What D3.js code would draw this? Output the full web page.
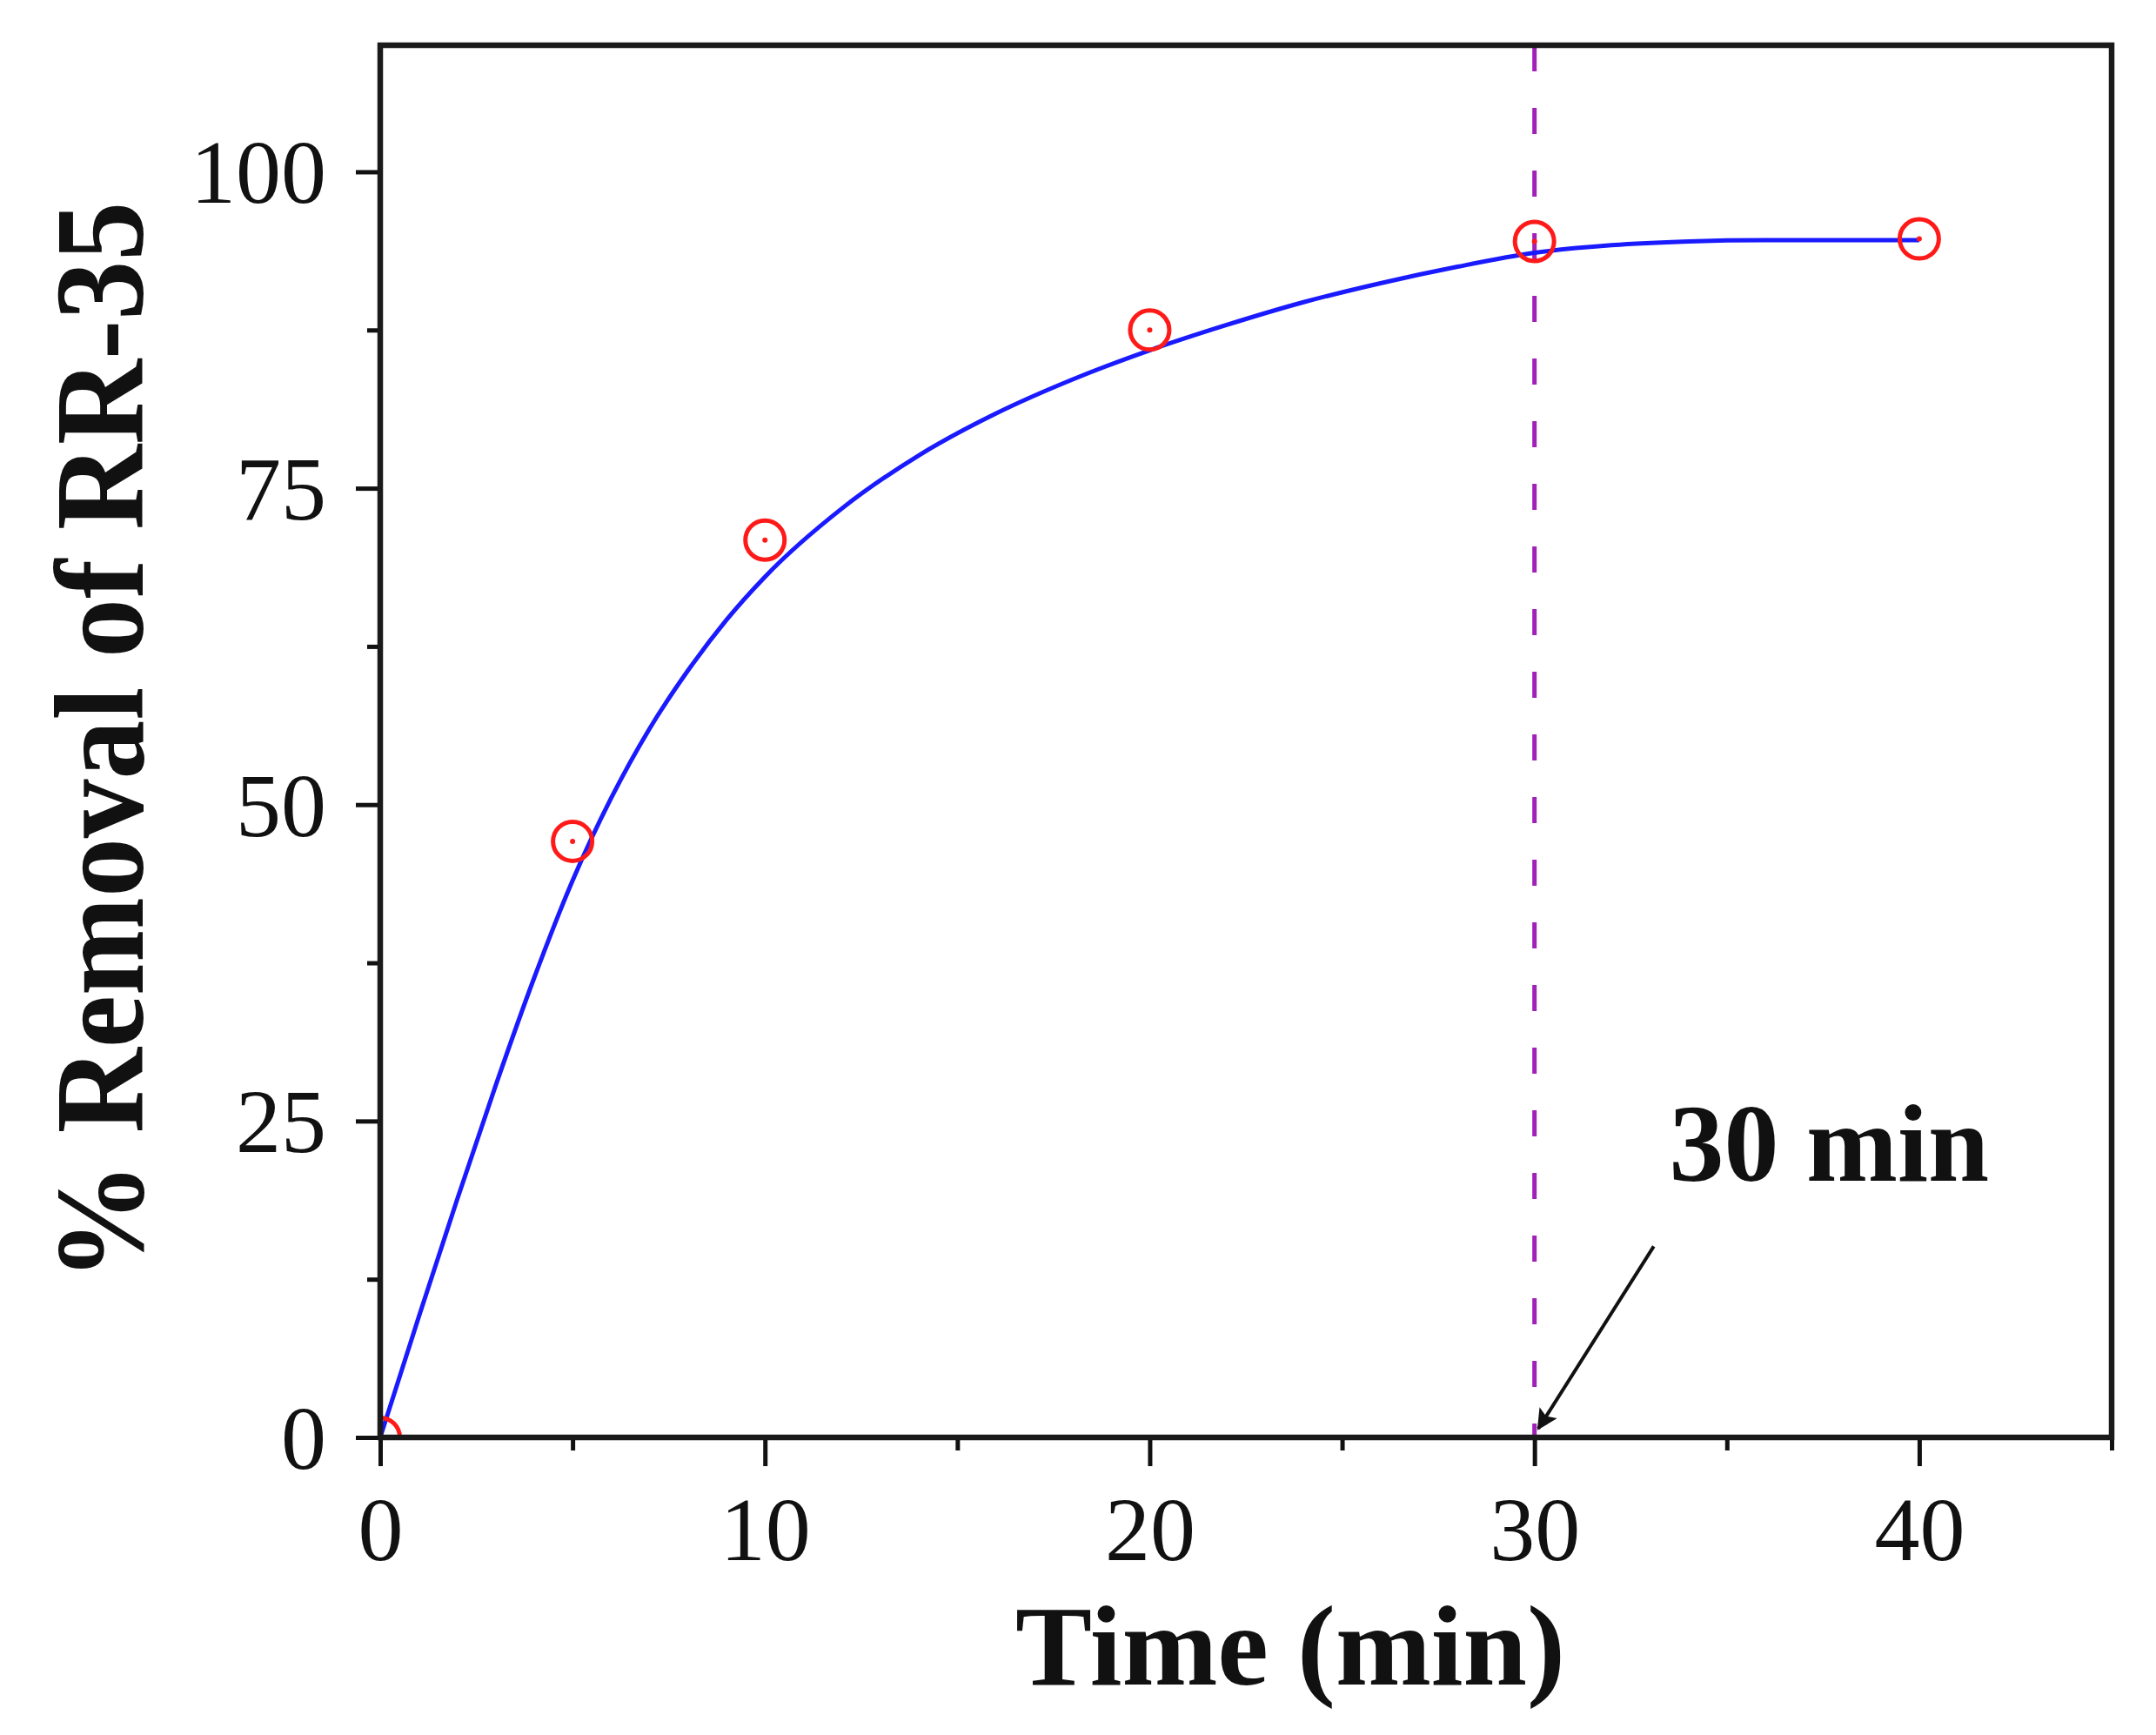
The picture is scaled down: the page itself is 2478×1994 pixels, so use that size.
<!DOCTYPE html>
<html>
<head>
<meta charset="utf-8">
<script src="https://cdn.jsdelivr.net/npm/d3@7"></script>
<style>
  html, body { margin: 0; padding: 0; background: #fff; }
  svg { display: block; }
  text { font-family: "Liberation Serif", "Times New Roman", serif; fill: #111; }
</style>
</head>
<body>
<svg id="chart" width="2478" height="1994"></svg>
<script>
// ---- Data ----
const pointTimes = [0, 5, 10, 20, 30, 40];
const pointRemoval = [0, 47.1, 70.9, 87.5, 94.5, 94.7];

const fitTimes = [0, 1, 2, 3, 4, 5, 6, 7, 8, 9, 10, 12, 14, 16, 18, 20, 22, 24, 26, 28, 30, 32, 34, 36, 38, 40];
const fitRemoval = [0, 9.5, 18.8, 27.8, 36.3, 44.0, 50.5, 56.0, 60.6, 64.6, 68.0, 73.4, 77.6, 80.9, 83.6, 85.9, 87.9, 89.7, 91.2, 92.5, 93.6, 94.2, 94.5, 94.6, 94.6, 94.6];

const xMajorTicks = [0, 10, 20, 30, 40];
const xMinorTicks = [5, 15, 25, 35, 45];
const yMajorTicks = [0, 25, 50, 75, 100];
const yMinorTicks = [12.5, 37.5, 62.5, 87.5];

const markerTime = 30;
const annotationLabel = "30 min";
const xTitle = "Time (min)";
const yTitle = "% Removal of RR-35";

// ---- Layout ----
const svg = d3.select("#chart");
const pLeft = 437, pRight = 2427, pTop = 52, pBottom = 1652;

const x = d3.scaleLinear().domain([0, 45]).range([pLeft, pRight]);
const y = d3.scaleLinear().domain([0, 110]).range([pBottom, pTop]);

svg.append("rect").attr("width", 2478).attr("height", 1994).attr("fill", "#fff");

const defs = svg.append("defs");
defs.append("clipPath").attr("id", "plotClip")
  .append("rect").attr("x", pLeft).attr("y", pTop).attr("width", pRight - pLeft).attr("height", pBottom - pTop);

defs.append("marker")
  .attr("id", "arrowHead").attr("viewBox", "0 0 10 10")
  .attr("refX", 9).attr("refY", 5)
  .attr("markerWidth", 8).attr("markerHeight", 6)
  .attr("markerUnits", "strokeWidth")
  .attr("orient", "auto")
  .append("path").attr("d", "M0,0 L10,5 L0,10 L2,5 z").attr("fill", "#111");

const tickFont = 104;

// Bottom axis (major)
const gx = svg.append("g").attr("transform", `translate(0,${pBottom})`)
  .call(d3.axisBottom(x).tickValues(xMajorTicks).tickSize(33).tickFormat(d3.format("d")));
gx.select(".domain").remove();
gx.selectAll(".tick line").attr("stroke", "#111").attr("stroke-width", 5);
gx.selectAll(".tick text").attr("y", 141).attr("dy", 0)
  .attr("font-size", tickFont).attr("fill", "#111");
// Bottom axis (minor)
const gxm = svg.append("g").attr("transform", `translate(0,${pBottom})`)
  .call(d3.axisBottom(x).tickValues(xMinorTicks).tickSize(15).tickFormat(""));
gxm.select(".domain").remove();
gxm.selectAll(".tick line").attr("stroke", "#111").attr("stroke-width", 5);

// Left axis (major)
const gy = svg.append("g").attr("transform", `translate(${pLeft},0)`)
  .call(d3.axisLeft(y).tickValues(yMajorTicks).tickSize(28).tickFormat(d3.format("d")));
gy.select(".domain").remove();
gy.selectAll(".tick line").attr("stroke", "#111").attr("stroke-width", 5);
gy.selectAll(".tick text").attr("x", -62).attr("dy", "0.34em")
  .attr("font-size", tickFont).attr("fill", "#111");
// Left axis (minor)
const gym = svg.append("g").attr("transform", `translate(${pLeft},0)`)
  .call(d3.axisLeft(y).tickValues(yMinorTicks).tickSize(15).tickFormat(""));
gym.select(".domain").remove();
gym.selectAll(".tick line").attr("stroke", "#111").attr("stroke-width", 5);

// Vertical dashed line at 30 min
svg.append("line")
  .attr("x1", x(markerTime)).attr("x2", x(markerTime))
  .attr("y1", y(110)).attr("y2", y(0))
  .attr("stroke", "#a020b8").attr("stroke-width", 5)
  .attr("stroke-dasharray", "30,42");

// Fitted curve
const line = d3.line()
  .x((d, i) => x(fitTimes[i]))
  .y((d, i) => y(fitRemoval[i]))
  .curve(d3.curveMonotoneX);
svg.append("path")
  .datum(fitRemoval)
  .attr("d", line)
  .attr("fill", "none")
  .attr("stroke", "#1a1aff")
  .attr("stroke-width", 5);

// Data points
const pts = svg.append("g").attr("clip-path", "url(#plotClip)");
const pdata = pointTimes.map((t, i) => ({ t, v: pointRemoval[i] }));
pts.selectAll("circle.pt").data(pdata).enter().append("circle")
  .attr("class", "pt")
  .attr("cx", d => x(d.t)).attr("cy", d => y(d.v)).attr("r", 22.5)
  .attr("fill", "none").attr("stroke", "#ff1a1a").attr("stroke-width", 5);
pts.selectAll("circle.dot").data(pdata).enter().append("circle")
  .attr("class", "dot")
  .attr("cx", d => x(d.t)).attr("cy", d => y(d.v)).attr("r", 3)
  .attr("fill", "#ff1a1a");

// Frame
svg.append("rect")
  .attr("x", pLeft).attr("y", pTop).attr("width", pRight - pLeft).attr("height", pBottom - pTop)
  .attr("fill", "none").attr("stroke", "#1a1a1a").attr("stroke-width", 6.5);

// Arrow annotation
svg.append("line")
  .attr("x1", x(33.1)).attr("y1", y(15.1))
  .attr("x2", x(30.1)).attr("y2", y(0.7))
  .attr("stroke", "#111").attr("stroke-width", 4)
  .attr("marker-end", "url(#arrowHead)");

svg.append("text")
  .attr("x", x(33.5)).attr("y", y(20.3))
  .attr("font-size", 126).attr("font-weight", "bold")
  .attr("fill", "#000")
  .text(annotationLabel);

// Axis titles
svg.append("text")
  .attr("x", 1483).attr("y", 1936)
  .attr("text-anchor", "middle")
  .attr("font-size", 132).attr("font-weight", "bold")
  .attr("fill", "#000")
  .text(xTitle);

svg.append("text")
  .attr("transform", `translate(164,${(pTop + pBottom) / 2}) rotate(-90)`)
  .attr("text-anchor", "middle")
  .attr("font-size", 146).attr("font-weight", "bold")
  .attr("textLength", 1240).attr("lengthAdjust", "spacingAndGlyphs")
  .attr("fill", "#000")
  .text(yTitle);
</script>
</body>
</html>
